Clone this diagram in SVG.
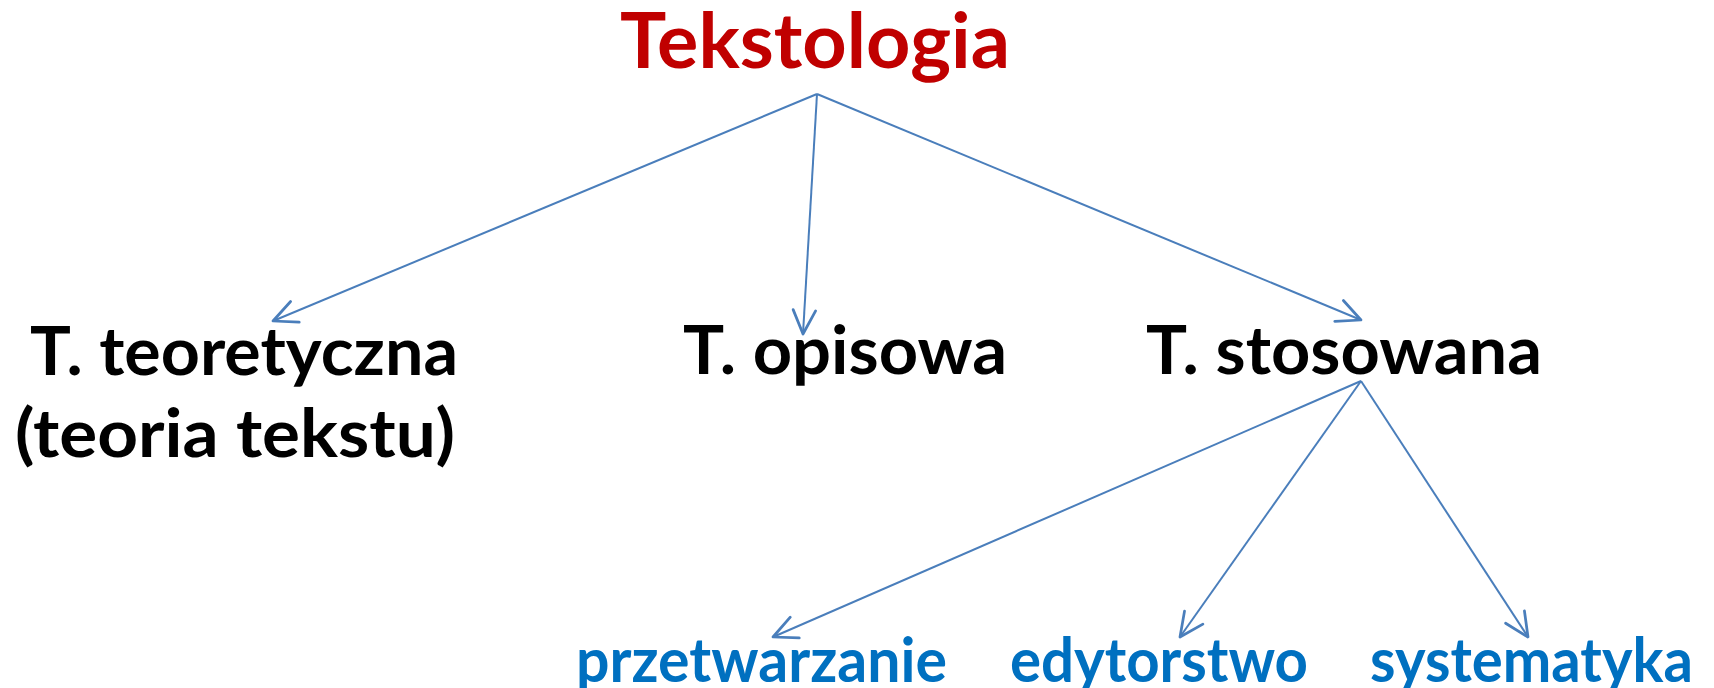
<svg xmlns="http://www.w3.org/2000/svg" width="1714" height="688" viewBox="0 0 1714 688">
<defs>
<marker id="arr" markerUnits="userSpaceOnUse" markerWidth="30" markerHeight="30" viewBox="-22 -12 24 24" refX="0" refY="0" orient="auto">
<path d="M-19,-9 L0,0 L-19,9" fill="none" stroke="#4A7EBB" stroke-width="2.2" stroke-linecap="round" stroke-linejoin="round"/>
</marker>
<style>
text{font-family:Lato,"Open Sans","Liberation Sans",sans-serif;font-weight:bold}
.title{fill:#C00000;font-size:77px}
.lvl1{fill:#000;font-size:66px}
.lvl2{fill:#0070C0;font-size:62px}
.conn line{stroke:#4A7EBB;stroke-width:2;marker-end:url(#arr)}
</style>
</defs>
<rect width="1714" height="688" fill="#fff"/>
<g id="connectors" class="conn">
<line x1="817" y1="94" x2="273" y2="321"/>
<line x1="817" y1="94" x2="803" y2="334"/>
<line x1="817" y1="94" x2="1361" y2="320"/>
<line x1="1361" y1="381" x2="773" y2="637"/>
<line x1="1361" y1="381" x2="1180" y2="637"/>
<line x1="1361" y1="381" x2="1528" y2="637"/>
</g>
<g id="tekstologia"><text class="title" x="620" y="68" textLength="390" lengthAdjust="spacingAndGlyphs">Tekstologia</text></g>
<g id="teoretyczna">
<text class="lvl1" x="30" y="375" textLength="428" lengthAdjust="spacingAndGlyphs">T. teoretyczna</text>
<text class="lvl1" x="15" y="457" textLength="440" lengthAdjust="spacingAndGlyphs">(teoria tekstu)</text>
</g>
<g id="opisowa"><text class="lvl1" x="683" y="374" textLength="324" lengthAdjust="spacingAndGlyphs">T. opisowa</text></g>
<g id="stosowana"><text class="lvl1" x="1146" y="374" textLength="396" lengthAdjust="spacingAndGlyphs">T. stosowana</text></g>
<g id="przetwarzanie"><text class="lvl2" x="576" y="682" textLength="371" lengthAdjust="spacingAndGlyphs">przetwarzanie</text></g>
<g id="edytorstwo"><text class="lvl2" x="1010" y="682" textLength="298" lengthAdjust="spacingAndGlyphs">edytorstwo</text></g>
<g id="systematyka"><text class="lvl2" x="1370" y="682" textLength="323" lengthAdjust="spacingAndGlyphs">systematyka</text></g>
</svg>
